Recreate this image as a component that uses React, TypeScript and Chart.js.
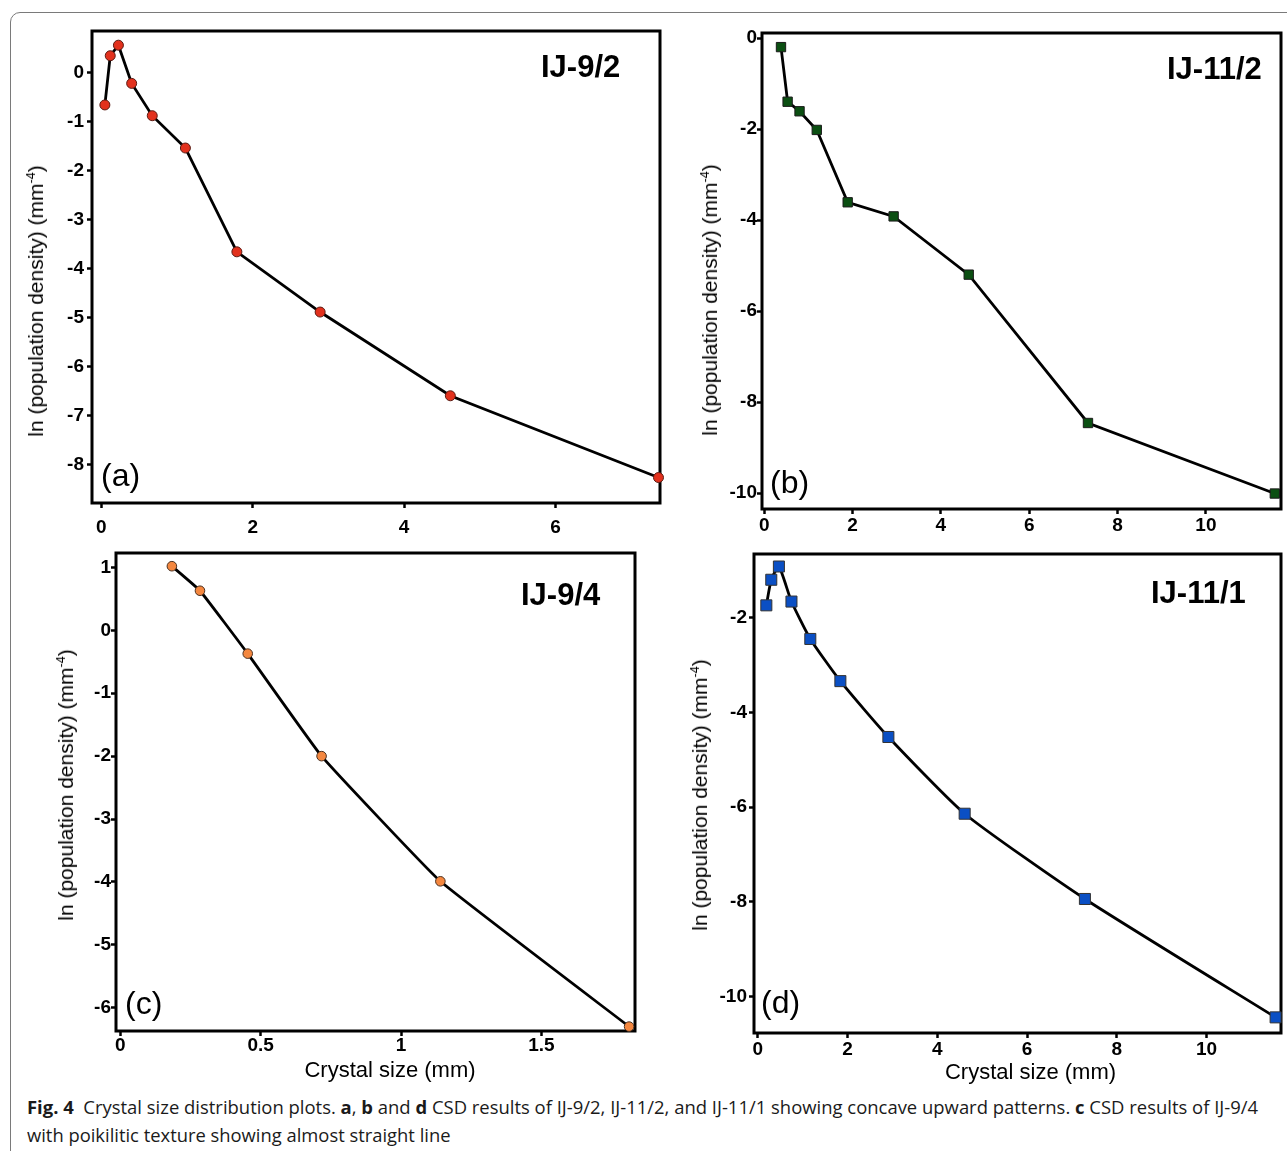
import React, { useEffect, useRef } from "react";
import { Chart, registerables } from "chart.js";

Chart.register(...registerables);
Chart.defaults.font.family = "'Liberation Sans', Arial, sans-serif";
Chart.defaults.font.size = 19;
Chart.defaults.font.weight = "bold" as any;
Chart.defaults.color = "#000";

// ---------- DATA ----------
// (a) IJ-9/2
const sizesA = [0.046, 0.117, 0.225, 0.40, 0.672, 1.11, 1.79, 2.89, 4.61, 7.36];
const lnDensA = [-0.66, 0.345, 0.56, -0.22, -0.88, -1.54, -3.66, -4.89, -6.6, -8.27];
const xTicksA = [0, 2, 4, 6];
const yTicksA = [-8, -7, -6, -5, -4, -3, -2, -1, 0];

// (b) IJ-11/2
const sizesB = [0.38, 0.53, 0.8, 1.19, 1.89, 2.93, 4.63, 7.33, 11.56];
const lnDensB = [-0.2, -1.4, -1.61, -2.02, -3.61, -3.92, -5.2, -8.46, -10.01];
const xTicksB = [0, 2, 4, 6, 8, 10];
const yTicksB = [-10, -8, -6, -4, -2, 0];

// (c) IJ-9/4
const sizesC = [0.184, 0.284, 0.454, 0.717, 1.14, 1.812];
const lnDensC = [1.02, 0.63, -0.37, -2.0, -3.99, -6.3];
const xTicksC = [0, 0.5, 1, 1.5];
const yTicksC = [-6, -5, -4, -3, -2, -1, 0, 1];

// (d) IJ-11/1
const sizesD = [0.19, 0.3, 0.47, 0.75, 1.17, 1.84, 2.91, 4.61, 7.29, 11.54];
const lnDensD = [-1.74, -1.2, -0.92, -1.66, -2.45, -3.34, -4.52, -6.14, -7.94, -10.44];
const xTicksD = [0, 2, 4, 6, 8, 10];
const yTicksD = [-10, -8, -6, -4, -2];

const sampleNames = ["IJ-9/2", "IJ-11/2", "IJ-9/4", "IJ-11/1"];
const panelLetters = ["(a)", "(b)", "(c)", "(d)"];
const xAxisTitle = "Crystal size (mm)";

// ---------- LAYOUT / STYLE ----------
const SPACE_L = 70, SPACE_T = 15, SPACE_R = 15, SPACE_B = 45;

const panels = [
  {
    xs: sizesA, ys: lnDensA, xTicks: xTicksA, yTicks: yTicksA,
    box: { L: 92, R: 660, T: 31, B: 503 },
    xMin: -0.124, xMax: 7.38, yMin: -8.79, yMax: 0.85,
    fill: "#e2311d", stroke: "#5a1a12", shape: "circle", radius: 5, tension: 0,
    xPad: 8, yPad: 3,
    name: { left: 541, cy: 67 }, letter: { left: 101, cy: 478 },
    yTitle: { cx: 35.5, cy: 301 }, xTitle: null,
  },
  {
    xs: sizesB, ys: lnDensB, xTicks: xTicksB, yTicks: yTicksB,
    box: { L: 762, R: 1281, T: 33, B: 509 },
    xMin: -0.05, xMax: 11.7, yMin: -10.35, yMax: 0.11,
    fill: "#0b4f12", stroke: "#1a1a1a", shape: "rect", radius: 6.6, tension: 0,
    xPad: 0, yPad: 0,
    name: { left: 1167, cy: 68.5 }, letter: { left: 770, cy: 485 },
    yTitle: { cx: 710, cy: 300 }, xTitle: null,
  },
  {
    xs: sizesC, ys: lnDensC, xTicks: xTicksC, yTicks: yTicksC,
    box: { L: 116, R: 635, T: 553, B: 1031 },
    xMin: -0.015, xMax: 1.833, yMin: -6.37, yMax: 1.23,
    fill: "#f4873f", stroke: "#4a3020", shape: "circle", radius: 4.8, tension: 0.1,
    xPad: -2, yPad: 0,
    name: { left: 521, cy: 595 }, letter: { left: 125, cy: 1006 },
    yTitle: { cx: 66, cy: 785 }, xTitle: { cx: 390, cy: 1070 },
  },
  {
    xs: sizesD, ys: lnDensD, xTicks: xTicksD, yTicks: yTicksD,
    box: { L: 754, R: 1281, T: 554, B: 1033 },
    xMin: -0.085, xMax: 11.66, yMin: -10.77, yMax: -0.656,
    fill: "#0a4fc4", stroke: "#333333", shape: "rect", radius: 7.8, tension: 0.18,
    xPad: 0, yPad: 2,
    name: { left: 1151, cy: 593 }, letter: { left: 761, cy: 1005 },
    yTitle: { cx: 700, cy: 795 }, xTitle: { cx: 1030.5, cy: 1072 },
  },
];

const boxPlugin = {
  id: "boxFrame",
  beforeDatasetsDraw(chart: any) {
    const { ctx, chartArea } = chart;
    const { left, top, right, bottom } = chartArea;
    ctx.save();
    ctx.lineWidth = 3;
    ctx.strokeStyle = "#000";
    ctx.strokeRect(left, top, right - left, bottom - top);
    ctx.restore();
  },
};

function PanelChart({ p }: { p: any }) {
  const ref = useRef<HTMLCanvasElement>(null);
  const w = p.box.R - p.box.L + SPACE_L + SPACE_R;
  const h = p.box.B - p.box.T + SPACE_T + SPACE_B;
  useEffect(() => {
    if (!ref.current) return;
    const tickFont = { family: "'Liberation Sans', Arial, sans-serif", size: 19, weight: "bold" };
    const chart = new Chart(ref.current, {
      type: "line",
      data: {
        datasets: [
          {
            data: p.xs.map((x: number, i: number) => ({ x, y: p.ys[i] })),
            borderColor: "#000",
            borderWidth: 2.8,
            pointStyle: p.shape,
            pointRadius: p.radius,
            pointBackgroundColor: p.fill,
            pointBorderColor: p.stroke,
            pointBorderWidth: 1,
            tension: p.tension,
            fill: false,
            clip: false as any,
          },
        ],
      },
      options: {
        responsive: false,
        maintainAspectRatio: false,
        animation: false,
        layout: {
          padding: { left: 0, top: SPACE_T, right: SPACE_R, bottom: 0 },
          autoPadding: false,
        } as any,
        plugins: { legend: { display: false }, tooltip: { enabled: false } },
        scales: {
          x: {
            type: "linear",
            min: p.xMin,
            max: p.xMax,
            afterBuildTicks: (s: any) => {
              s.ticks = p.xTicks.map((value: number) => ({ value }));
            },
            afterFit: (s: any) => {
              s.height = SPACE_B;
            },
            grid: { display: true, drawOnChartArea: false, drawTicks: true, tickLength: 5, tickWidth: 2.5, tickColor: "#000" },
            border: { display: false },
            ticks: {
              font: tickFont as any, color: "#000", padding: p.xPad, maxRotation: 0, minRotation: 0, autoSkip: false,
              callback: (v: any) => String(v),
            },
          },
          y: {
            type: "linear",
            min: p.yMin,
            max: p.yMax,
            afterBuildTicks: (s: any) => {
              s.ticks = p.yTicks.map((value: number) => ({ value }));
            },
            afterFit: (s: any) => {
              s.width = SPACE_L;
            },
            grid: { display: true, drawOnChartArea: false, drawTicks: true, tickLength: 5, tickWidth: 2.5, tickColor: "#000" },
            border: { display: false },
            ticks: {
              font: tickFont as any, color: "#000", padding: p.yPad, autoSkip: false,
              callback: (v: any) => String(v),
            },
          },
        },
      },
      plugins: [boxPlugin],
    });
    return () => chart.destroy();
  }, []);
  return (
    <canvas
      ref={ref}
      width={w}
      height={h}
      style={{ position: "absolute", left: p.box.L - SPACE_L, top: p.box.T - SPACE_T, width: w, height: h }}
    />
  );
}

const ARIAL = "'Liberation Sans', Arial, sans-serif";

function Caption() {
  const l1 = useRef<HTMLDivElement>(null);
  const l2 = useRef<HTMLDivElement>(null);
  useEffect(() => {
    if (l1.current && l2.current) {
      const s1 = 1231 / l1.current.offsetWidth;
      const s2 = 424 / l2.current.offsetWidth;
      l1.current.style.transform = `scaleX(${s1})`;
      l2.current.style.transform = `scaleX(${s2})`;
    }
  }, []);
  const lineStyle: React.CSSProperties = {
    display: "inline-block",
    whiteSpace: "nowrap",
    transformOrigin: "left center",
  };
  return (
    <div
      style={{
        position: "absolute",
        left: 27,
        top: 1093,
        fontFamily: "'Open Sans', sans-serif",
        fontSize: 17.5,
        lineHeight: "28px",
        color: "#1a1a1a",
      }}
    >
      <div><div ref={l1} style={lineStyle}>
        <b>Fig. 4</b>{"\u00a0\u00a0"}Crystal size distribution plots. <b>a</b>, <b>b</b> and <b>d</b> CSD results of IJ-9/2, IJ-11/2, and IJ-11/1 showing concave upward patterns. <b>c</b> CSD results of IJ-9/4
      </div></div>
      <div><div ref={l2} style={lineStyle}>with poikilitic texture showing almost straight line</div></div>
    </div>
  );
}

export default function App() {
  return (
    <div
      style={{
        position: "absolute",
        left: 0,
        top: 0,
        width: 1287,
        height: 1151,
        overflow: "hidden",
        background: "#fff",
        fontFamily: ARIAL,
        color: "#000",
      }}
    >
      <div
        style={{
          position: "absolute",
          left: 10,
          top: 12,
          width: 1320,
          height: 1180,
          border: "1px solid #7a7a7a",
          borderRadius: 10,
          boxSizing: "border-box",
        }}
      />
      {panels.map((p, i) => (
        <PanelChart key={i} p={p} />
      ))}
      {panels.map((p, i) => (
        <React.Fragment key={"t" + i}>
          <div
            style={{
              position: "absolute", left: p.name.left, top: p.name.cy - 18,
              fontSize: 31, fontWeight: "bold", lineHeight: "36px", whiteSpace: "nowrap",
            }}
          >
            {sampleNames[i]}
          </div>
          <div
            style={{
              position: "absolute", left: p.letter.left, top: p.letter.cy - 21,
              fontSize: 32, lineHeight: "36px", whiteSpace: "nowrap",
            }}
          >
            {panelLetters[i]}
          </div>
          <div
            style={{
              position: "absolute", left: p.yTitle.cx, top: p.yTitle.cy,
              transform: "translate(-50%, -50%) rotate(-90deg)",
              fontSize: 21, lineHeight: "24px", whiteSpace: "nowrap",
            }}
          >
            ln (population density) (mm<sup style={{ fontSize: "0.6em", lineHeight: 0 }}>-4</sup>)
          </div>
          {p.xTitle && (
            <div
              style={{
                position: "absolute", left: p.xTitle.cx, top: p.xTitle.cy - 13,
                transform: "translateX(-50%)",
                fontSize: 22, lineHeight: "26px", whiteSpace: "nowrap",
              }}
            >
              {xAxisTitle}
            </div>
          )}
        </React.Fragment>
      ))}
      <Caption />
    </div>
  );
}
